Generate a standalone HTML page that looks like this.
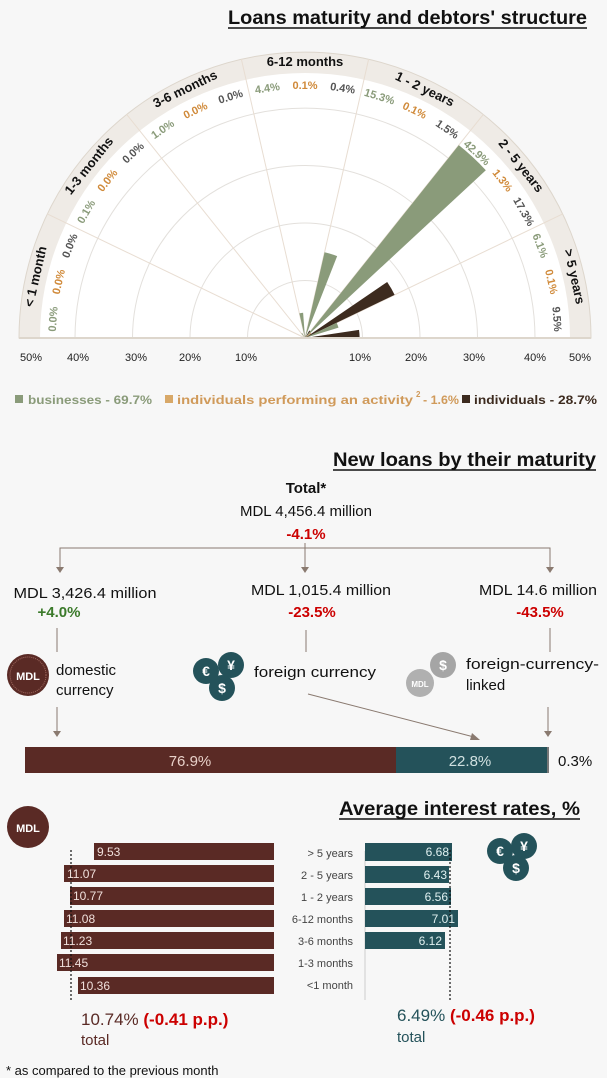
<!DOCTYPE html>
<html><head><meta charset="utf-8"><style>
body{margin:0;background:#f7f7f7;}
svg{display:block;font-family:"Liberation Sans",sans-serif;}
</style></head><body>
<svg width="607" height="1078" viewBox="0 0 607 1078" xmlns="http://www.w3.org/2000/svg">
<rect width="607" height="1078" fill="#f7f7f7"/>
<!-- Title 1 -->
<text x="228" y="24" font-size="19" font-weight="bold" fill="#111" textLength="359" lengthAdjust="spacingAndGlyphs">Loans maturity and debtors' structure</text>
<line x1="228" y1="28" x2="587" y2="28" stroke="#111" stroke-width="1.5"/>
<!-- semicircle -->
<path d="M19,338 A286,286 0 0 1 591,338 Z" fill="#efebe6" stroke="#ddd6cc"/>
<path d="M40,338 A265,265 0 0 1 570,338 Z" fill="#fff"/>
<g fill="none" stroke="#e3e0dc">
<path d="M247.5,338 A57.5,57.5 0 0 1 362.5,338"/>
<path d="M190,338 A115,115 0 0 1 420,338"/>
<path d="M132.5,338 A172.5,172.5 0 0 1 477.5,338"/>
<path d="M75,338 A230,230 0 0 1 535,338"/>
</g>
<g id="rays" stroke="#e8ddd2"></g>
<g id="bars"></g>
<g id="labels"></g>
<line x1="19" y1="338" x2="591" y2="338" stroke="#ddd6cc" stroke-width="2"/>
<g font-size="11" fill="#222" text-anchor="middle">
<text x="31" y="361">50%</text><text x="78" y="361">40%</text><text x="136" y="361">30%</text><text x="190" y="361">20%</text><text x="246" y="361">10%</text>
<text x="360" y="361">10%</text><text x="416" y="361">20%</text><text x="474" y="361">30%</text><text x="535" y="361">40%</text><text x="580" y="361">50%</text>
</g>
<!-- legend -->
<g font-size="12" font-weight="bold">
<rect x="15" y="395" width="8" height="8" fill="#8a9b7a"/><text x="28" y="404" fill="#8a9b7a" textLength="124" lengthAdjust="spacingAndGlyphs">businesses - 69.7%</text>
<rect x="165" y="395" width="8" height="8" fill="#d8a868"/><text x="177" y="404" fill="#d09a5a" textLength="236" lengthAdjust="spacingAndGlyphs">individuals performing an activity</text><text x="416" y="397" font-size="8" fill="#d09a5a">2</text><text x="423" y="404" fill="#d09a5a" textLength="36" lengthAdjust="spacingAndGlyphs">- 1.6%</text>
<rect x="462" y="395" width="8" height="8" fill="#3d2b1f"/><text x="474" y="404" fill="#3d2b1f" textLength="123" lengthAdjust="spacingAndGlyphs">individuals - 28.7%</text>
</g>

<!-- Section 2 -->
<text x="333" y="466" font-size="19" font-weight="bold" fill="#111" textLength="263" lengthAdjust="spacingAndGlyphs">New loans by their maturity</text>
<line x1="333" y1="470" x2="596" y2="470" stroke="#111" stroke-width="1.5"/>
<g text-anchor="middle" font-size="15">
<text x="306" y="493" font-weight="bold" fill="#111">Total*</text>
<text x="306" y="516" fill="#111">MDL 4,456.4 million</text>
<text x="306" y="539" font-weight="bold" fill="#c00">-4.1%</text>
</g>
<g stroke="#8a7a70" fill="none">
<path d="M60,567 V548 H550 V567 M305,543 V567"/>
<path d="M57,628 V652 M306,630 V652 M550,628 V652"/>
<path d="M57,707 V732 M548,707 V732 M308,694 L474,737"/>
</g>
<g fill="#8a7a70">
<path d="M56,567 L64,567 L60,573 Z"/><path d="M301,567 L309,567 L305,573 Z"/><path d="M546,567 L554,567 L550,573 Z"/>
<path d="M53,731 L61,731 L57,737 Z"/><path d="M544,731 L552,731 L548,737 Z"/><path d="M472,733 L480,740 L470,740 Z"/>
</g>
<g text-anchor="middle" font-size="15">
<text x="85" y="598" fill="#111" textLength="143" lengthAdjust="spacingAndGlyphs">MDL 3,426.4 million</text><text x="59" y="617" font-weight="bold" fill="#3b7a2a">+4.0%</text>
<text x="321" y="595" fill="#111" textLength="140" lengthAdjust="spacingAndGlyphs">MDL 1,015.4 million</text><text x="312" y="617" font-weight="bold" fill="#c00">-23.5%</text>
<text x="538" y="595" fill="#111" textLength="118" lengthAdjust="spacingAndGlyphs">MDL 14.6 million</text><text x="540" y="617" font-weight="bold" fill="#c00">-43.5%</text>
</g>
<!-- icons -->
<circle cx="28" cy="675" r="21" fill="#5a2a25"/><circle cx="28" cy="675" r="18" fill="none" stroke="#a06a60" stroke-width="1" stroke-dasharray="1,1"/>
<text x="28" y="680" text-anchor="middle" font-size="11" font-weight="bold" fill="#fff">MDL</text>
<text x="56" y="675" font-size="15" fill="#111">domestic</text><text x="56" y="695" font-size="15" fill="#111">currency</text>
<g font-weight="bold" text-anchor="middle" fill="#fff" font-size="14">
<circle cx="206" cy="671" r="13" fill="#24525a"/><text x="206" y="676">€</text>
<circle cx="231" cy="665" r="13" fill="#24525a"/><text x="231" y="670">¥</text>
<circle cx="222" cy="688" r="13" fill="#24525a"/><text x="222" y="693">$</text>
</g>
<text x="254" y="677" font-size="15" fill="#111" textLength="122" lengthAdjust="spacingAndGlyphs">foreign currency</text>
<g font-weight="bold" text-anchor="middle" fill="#fff" font-size="14">
<circle cx="443" cy="665" r="13" fill="#a5a5a5"/><text x="443" y="670">$</text>
<circle cx="420" cy="683" r="14" fill="#b0b0b0"/><text x="420" y="687" font-size="8">MDL</text>
</g>
<text x="466" y="669" font-size="15" fill="#111" textLength="133" lengthAdjust="spacingAndGlyphs">foreign-currency-</text><text x="466" y="690" font-size="15" fill="#111">linked</text>
<rect x="25" y="747" width="371" height="26" fill="#5a2a25"/>
<rect x="396" y="747" width="152" height="26" fill="#24525a"/>
<rect x="547" y="747" width="2" height="26" fill="#777"/>
<text x="190" y="766" text-anchor="middle" font-size="15" fill="#e8d0c8">76.9%</text>
<text x="470" y="766" text-anchor="middle" font-size="15" fill="#d0e0e0">22.8%</text>
<text x="558" y="766" font-size="15" fill="#111">0.3%</text>

<!-- Section 3 -->
<text x="339" y="815" font-size="19" font-weight="bold" fill="#111" textLength="241" lengthAdjust="spacingAndGlyphs">Average interest rates, %</text>
<line x1="339" y1="819" x2="580" y2="819" stroke="#111" stroke-width="1.5"/>
<circle cx="28" cy="827" r="21" fill="#5a2a25"/>
<text x="28" y="832" text-anchor="middle" font-size="11" font-weight="bold" fill="#fff">MDL</text>
<g font-weight="bold" text-anchor="middle" fill="#fff" font-size="14">
<circle cx="500" cy="851" r="13" fill="#24525a"/><text x="500" y="856">€</text>
<circle cx="524" cy="846" r="13" fill="#24525a"/><text x="524" y="851">¥</text>
<circle cx="516" cy="868" r="13" fill="#24525a"/><text x="516" y="873">$</text>
</g>
<g fill="#5a2a25">
<rect x="94" y="843" width="180" height="17"/><rect x="64" y="865" width="210" height="17"/><rect x="70" y="887" width="204" height="18"/><rect x="64" y="910" width="210" height="17"/><rect x="61" y="932" width="213" height="17"/><rect x="57" y="954" width="217" height="17"/><rect x="78" y="977" width="196" height="17"/>
</g>
<line x1="71" y1="850" x2="71" y2="1000" stroke="#111" stroke-width="1.2" stroke-dasharray="2,2"/>
<g font-size="12" fill="#f0e0dc">
<text x="97" y="856">9.53</text><text x="67" y="878">11.07</text><text x="73" y="900">10.77</text><text x="66" y="923">11.08</text><text x="63" y="945">11.23</text><text x="59" y="967">11.45</text><text x="80" y="990">10.36</text>
</g>
<g font-size="11" fill="#444" text-anchor="end">
<text x="353" y="857">&gt; 5 years</text><text x="353" y="879">2 - 5 years</text><text x="353" y="901">1 - 2 years</text><text x="353" y="923">6-12 months</text><text x="353" y="945">3-6 months</text><text x="353" y="967">1-3 months</text><text x="353" y="989">&lt;1 month</text>
</g>
<line x1="365" y1="851" x2="365" y2="1000" stroke="#ccc"/>
<g fill="#24525a">
<rect x="365" y="843" width="87" height="18"/><rect x="365" y="866" width="84" height="17"/><rect x="365" y="888" width="86" height="17"/><rect x="365" y="910" width="93" height="17"/><rect x="365" y="932" width="80" height="17"/>
</g>
<line x1="450" y1="850" x2="450" y2="1000" stroke="#111" stroke-width="1.2" stroke-dasharray="2,2"/>
<g font-size="12" fill="#e0f0f0" text-anchor="end">
<text x="449" y="856">6.68</text><text x="447" y="879">6.43</text><text x="448" y="901">6.56</text><text x="455" y="923">7.01</text><text x="442" y="945">6.12</text>
</g>
<text x="81" y="1025" font-size="17" fill="#5a2a25">10.74% <tspan fill="#c00" font-weight="bold">(-0.41 p.p.)</tspan></text>
<text x="81" y="1045" font-size="15" fill="#5a2a25">total</text>
<text x="397" y="1021" font-size="17" fill="#24525a">6.49% <tspan fill="#c00" font-weight="bold">(-0.46 p.p.)</tspan></text>
<text x="397" y="1042" font-size="15" fill="#24525a">total</text>
<text x="6" y="1075" font-size="13" fill="#111">* as compared to the previous month</text>
</svg>
<script>
var ns="http://www.w3.org/2000/svg",cx=305,cy=338,k=5.75,S=180/7;
function el(p,t,a){var e=document.createElementNS(ns,t);for(var n in a)e.setAttribute(n,a[n]);p.appendChild(e);return e;}
function pt(r,d){var a=d*Math.PI/180;return [cx+r*Math.cos(a),cy-r*Math.sin(a)];}
var rays=document.getElementById('rays'),bars=document.getElementById('bars'),lab=document.getElementById('labels');
for(var i=1;i<7;i++){var a=pt(0,i*S),b=pt(286,i*S);el(rays,'line',{x1:a[0],y1:a[1],x2:b[0],y2:b[1]});}
var cats=["< 1 month","1-3 months","3-6 months","6-12 months","1 - 2 years","2 - 5 years","> 5 years"];
var vals=[[0,0,0],[0.1,0,0],[1.0,0,0],[4.4,0.1,0.4],[15.3,0.1,1.5],[42.9,1.3,17.3],[6.1,0.1,9.5]];
var cols=["#8a9b7a","#d8a868","#3d2b1f"],tcols=["#8a9b7a","#d08a3a","#555"];
for(var c=0;c<7;c++){
  var st=180-c*S;
  var mid=st-S/2,q=pt(276,mid);
  var t=el(lab,'text',{x:q[0],y:q[1]+4,'text-anchor':'middle','font-size':13,'font-weight':'bold',fill:'#111',transform:'rotate('+(90-mid)+' '+q[0]+' '+q[1]+')'});t.textContent=cats[c];
  for(var s=0;s<3;s++){
    var a1=st-s*S/3,a2=a1-S/3,r=vals[c][s]*k;
    if(r>0.5){var p1=pt(r,a1),p2=pt(r,a2);el(bars,'path',{d:'M'+cx+','+cy+' L'+p1[0]+','+p1[1]+' A'+r+','+r+' 0 0 1 '+p2[0]+','+p2[1]+' Z',fill:cols[s]});}
    var am=a1-S/6,w=pt(253,am);
    var tt=el(lab,'text',{x:w[0],y:w[1]+4,'text-anchor':'middle','font-size':11,'font-weight':'bold',fill:tcols[s],transform:'rotate('+(90-am)+' '+w[0]+' '+w[1]+')'});tt.textContent=vals[c][s].toFixed(1)+'%';
  }
}
</script>
</body></html>
